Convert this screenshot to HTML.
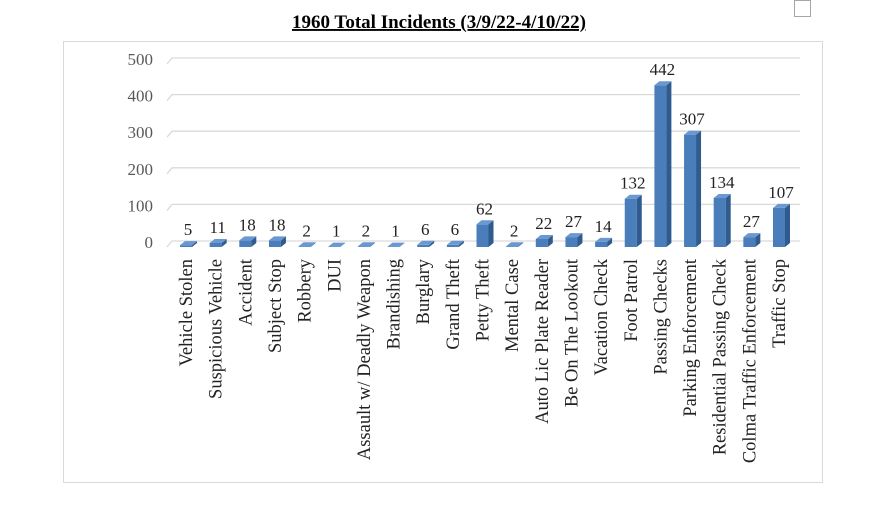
<!DOCTYPE html>
<html><head><meta charset="utf-8"><style>
body{margin:0;background:#fff;width:883px;height:511px;overflow:hidden;font-family:"Liberation Serif",serif}
</style></head><body>
<svg width="883" height="511">
<rect x="794.5" y="0.5" width="16" height="16" fill="none" stroke="#a6a6a6"/>
<rect x="63.5" y="41.5" width="759" height="441" fill="#fff" stroke="#d9d9d9"/>
<text x="439" y="28" text-anchor="middle" font-weight="bold" font-size="19" text-decoration="underline" fill="#000">1960 Total Incidents (3/9/22-4/10/22)</text>
<g id="grid"></g><g id="bars"></g><g id="labels"></g>
</svg>
<script>
const categories=["Vehicle Stolen","Suspicious Vehicle","Accident","Subject Stop","Robbery","DUI","Assault w/ Deadly Weapon","Brandishing","Burglary","Grand Theft","Petty Theft","Mental Case","Auto Lic Plate Reader","Be On The Lookout","Vacation Check","Foot Patrol","Passing Checks","Parking Enforcement","Residential Passing Check","Colma Traffic Enforcement","Traffic Stop"];
const values=[5,11,18,18,2,1,2,1,6,6,62,2,22,27,14,132,442,307,134,27,107];
const ticks=[0,100,200,300,400,500];
const NS="http://www.w3.org/2000/svg";
const svg=document.querySelector('svg');
const base=247,scale=0.366,dx=5,dy=6,x0=186,step=(779-186)/(categories.length-1);
const yv=v=>base-v*scale, xc=i=>x0+i*step;
function mk(t,a,p){const e=document.createElementNS(NS,t);for(const k in a)e.setAttribute(k,a[k]);(p||svg).appendChild(e);return e;}
const G=document.getElementById('grid'),B=document.getElementById('bars'),L=document.getElementById('labels');
ticks.forEach(t=>{
 const y=yv(t)-dy;
 const l=mk('polyline',{points:`${167},${y+dy} ${167+dx},${y} 800,${y}`,fill:'none',stroke:'#d9d9d9','stroke-width':1.3},G);
 
 
 const tx=mk('text',{x:153,y:yv(t)+1,'text-anchor':'end','font-size':17,fill:'#595959'},G);
 tx.textContent=t;
 
 
});
const w=12;
values.forEach((v,i)=>{
 const x=xc(i)-w/2,y=yv(v),g=mk('g',{},B);
 
 
 mk('rect',{x:x,y:y,width:w,height:base-y,fill:'#4a7ebb'},g);
 mk('polygon',{points:`${x+w},${y} ${x+w+dx},${y-dy/1.5} ${x+w+dx},${base-dy/1.5} ${x+w},${base}`,fill:'#2f5b8e'},g);
 mk('polygon',{points:`${x},${y} ${x+dx},${y-dy/1.5} ${x+w+dx},${y-dy/1.5} ${x+w},${y}`,fill:'#6a98d2'},g);
 const t=mk('text',{x:xc(i)+2,y:y-10,'text-anchor':'middle','font-size':17,fill:'#222'},L);
 t.textContent=v;
 
 
 const c=mk('text',{transform:`translate(${xc(i)+6},259) rotate(-90)`,'text-anchor':'end','font-size':18.5,fill:'#222'},L);
 c.textContent=categories[i];
 
 
});
</script>
</body></html>
